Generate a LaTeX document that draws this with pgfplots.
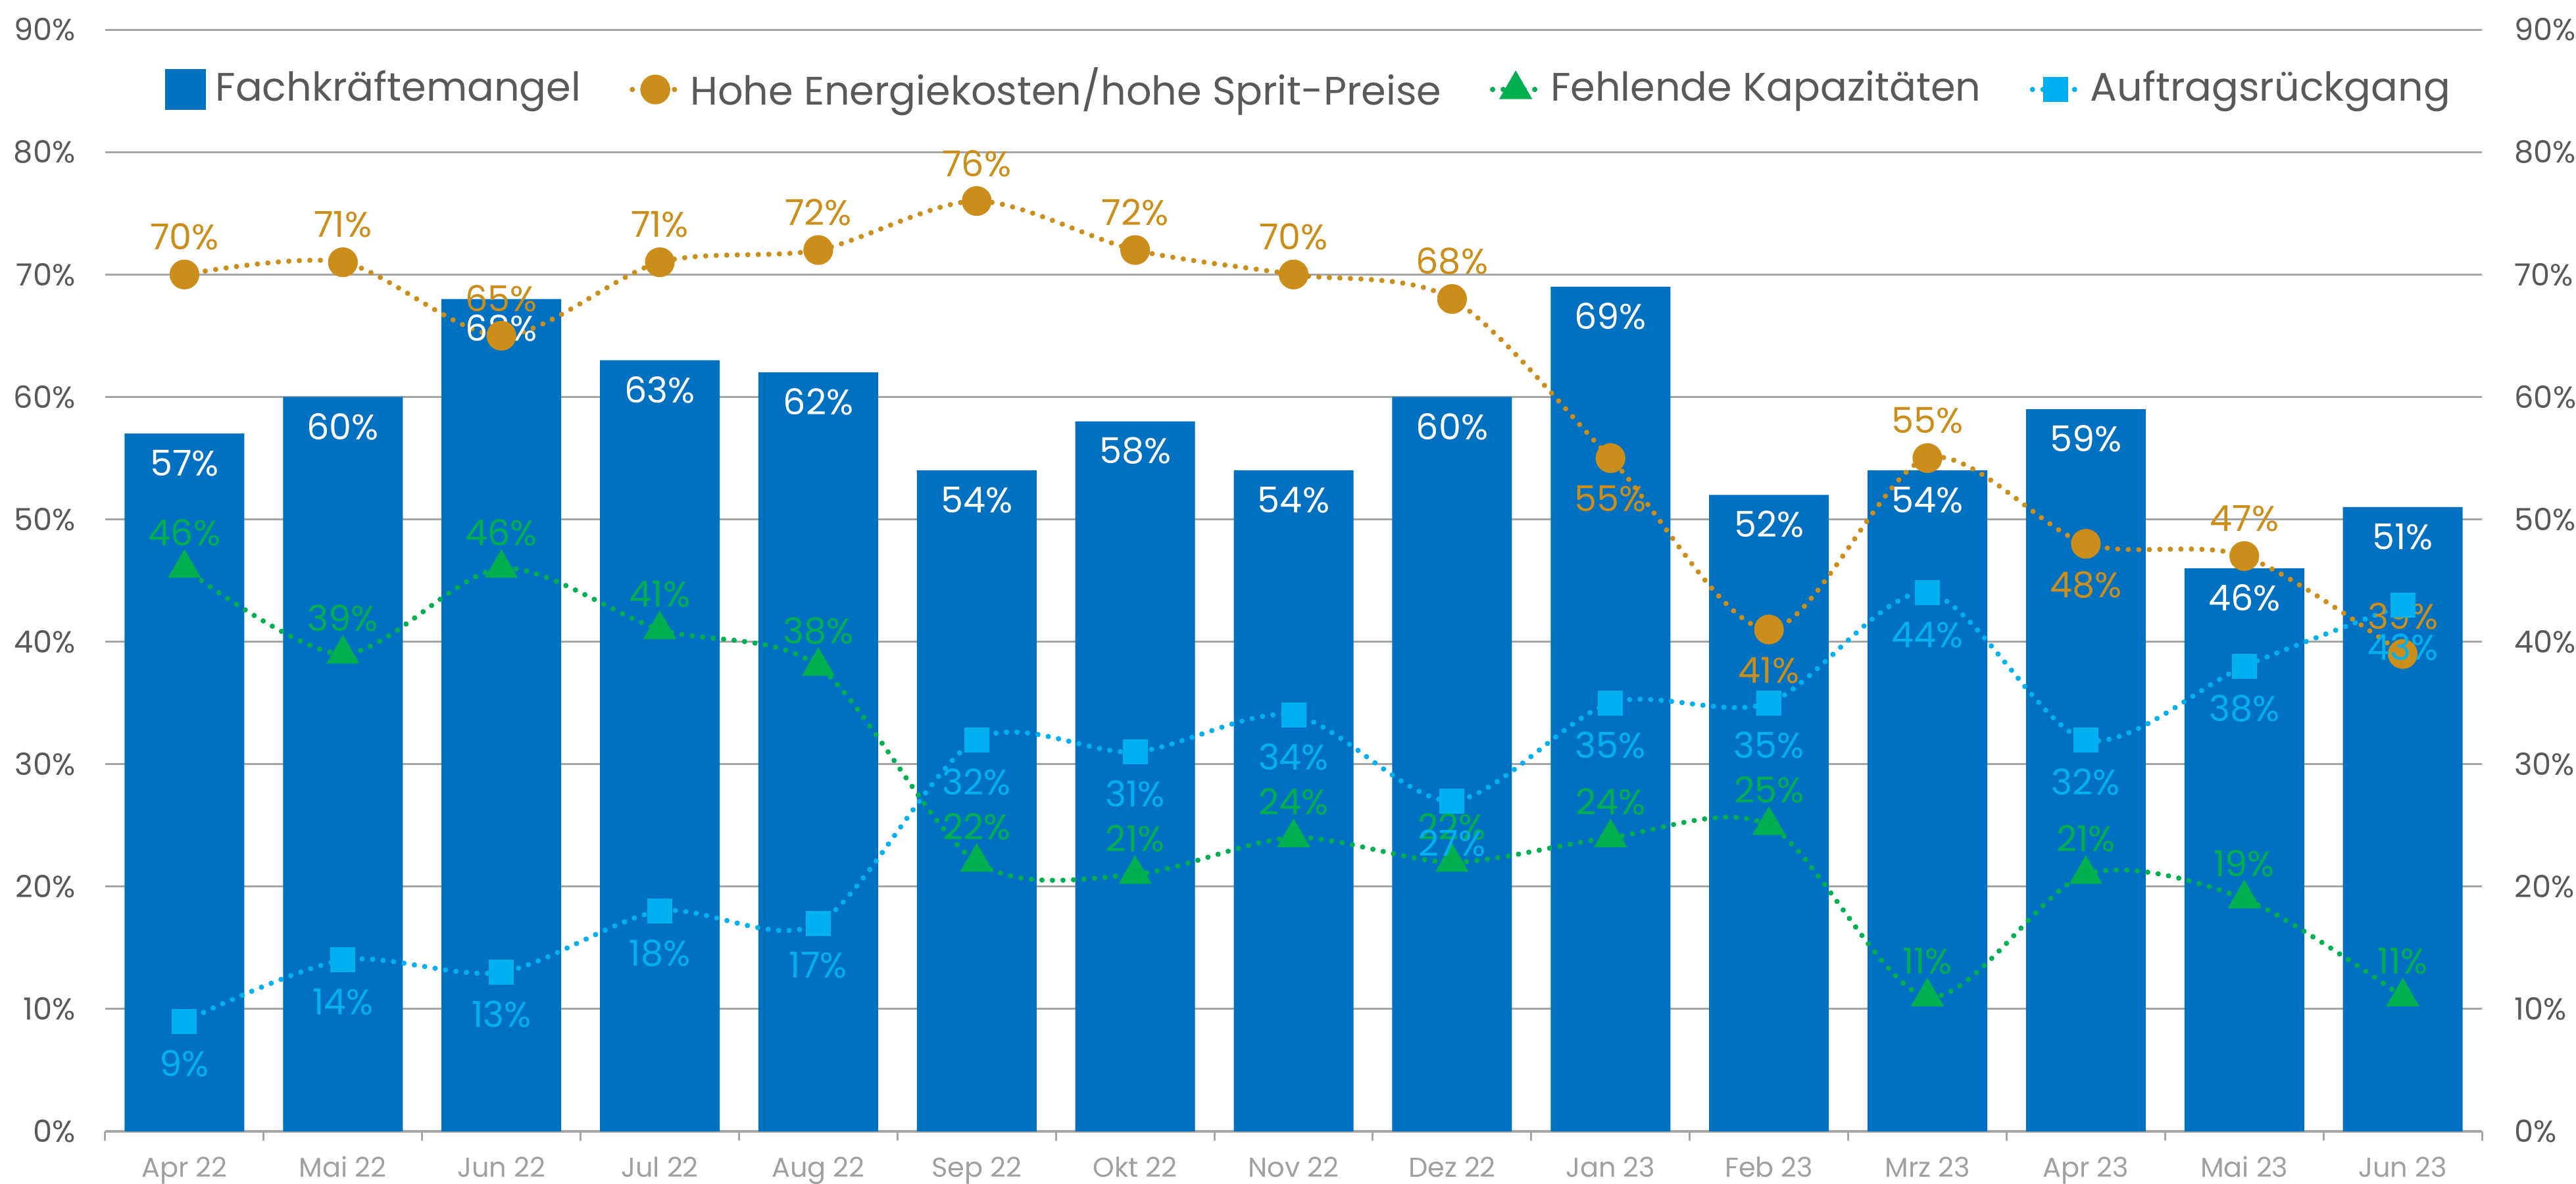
\documentclass[border=0pt]{standalone}
\usepackage{fontspec}
\setmainfont{Poppins}
\usepackage{pgfplots}
\usepackage{pgfplotstable}
\pgfplotsset{compat=1.18}
\pgfkeys{/pgf/number format/assume math mode=true}

\definecolor{barblue}{HTML}{0070C0}
\definecolor{energy}{HTML}{CB8E1A}
\definecolor{kapa}{HTML}{00B050}
\definecolor{auftrag}{HTML}{00B0F0}
\definecolor{txtgray}{HTML}{595959}
\definecolor{xgray}{HTML}{A0A0A0}
\definecolor{gridgray}{HTML}{A6A6A6}

% epos: shift of the energy label in mm (above > 0, below < 0)
\pgfplotstableread{
x  bar energy epos  green blue
0  57  70     2.85  46    9
1  60  71     2.85  39    14
2  68  65     2.85  46    13
3  63  71     2.85  41    18
4  62  72     2.85  38    17
5  54  76     2.85  22    32
6  58  72     2.85  21    31
7  54  70     2.85  24    34
8  60  68     2.85  22    27
9  69  55     -3.1  24    35
10 52  41     -3.1  25    35
11 54  55     2.85  11    44
12 59  48     -3.1  21    32
13 46  47     2.85  19    38
14 51  39     2.85  11    43
}\umfrage

\newcommand{\lblfont}{\fontsize{7.7}{9}\selectfont}
\newcommand{\tickfont}{\fontsize{6.6}{8}\selectfont}

\begin{document}
\begin{tikzpicture}[x=1mm,y=1mm]
\useasboundingbox (-8,-3.95) rectangle (187.8,86);
\begin{axis}[
  at={(0,0)}, anchor=south west,
  scale only axis, width=180.65mm, height=83.75mm,
  xmin=-0.5, xmax=14.5, ymin=0, ymax=90,
  clip=false,
  axis x line*=bottom, axis y line*=left,
  y axis line style={draw=none},
  x axis line style={draw=gridgray, line width=0.2mm},
  xtick={0,...,14},
  xticklabels={Apr 22, Mai 22, Jun 22, Jul 22, Aug 22, Sep 22, Okt 22, Nov 22, Dez 22, Jan 23, Feb 23, Mrz 23, Apr 23, Mai 23, Jun 23},
  minor xtick={-0.5,0.5,...,14.5},
  major tick length=0pt, minor tick length=0.7mm, tick align=outside,
  minor tick style={draw=gridgray, line width=0.15mm},
  xticklabel style={font=\fontsize{5.9}{7}\selectfont, text=xgray, anchor=base, inner sep=0pt, yshift=-3.45mm},
  ytick={0,10,...,90},
  yticklabel={\pgfmathprintnumber{\tick}\%},
  yticklabel style={font=\tickfont, text=txtgray, anchor=east, inner sep=0pt, xshift=-2.2mm},
  ymajorgrids, major grid style={draw=gridgray, line width=0.15mm},
  legend columns=4,
  legend style={at={(0.508,0.9457)}, anchor=center, draw=none, fill=none,
    font=\fontsize{8.6}{10}\selectfont, text=txtgray,
    /tikz/every even column/.append style={column sep=3mm}},
  legend image code/.code={\draw[mark repeat=2,mark phase=2,#1] plot coordinates {(0mm,0mm) (1.75mm,0mm) (3.5mm,0mm)};},
]
\addplot[ybar, bar width=9.1mm, bar shift=0pt, fill=barblue, draw=none,
  legend image code/.code={\fill[barblue] (0mm,-1.55mm) rectangle (3.1mm,1.55mm);},
  nodes near coords={\pgfmathprintnumber{\pgfplotspointmeta}\%},
  every node near coord/.style={font=\lblfont, text=white, anchor=center, yshift=-2.25mm}]
  table[x=x,y=bar]{\umfrage};
\addlegendentry{Fachkräftemangel}

\addplot[energy, line width=0.4mm, dash pattern=on 0pt off 0.8mm, line cap=round, smooth,
  mark=*, mark size=0.93mm, mark options={solid, fill=energy, draw=none},
  visualization depends on={\thisrow{epos} \as \epos},
  nodes near coords={\pgfmathprintnumber{\pgfplotspointmeta}\%},
  every node near coord/.style={font=\lblfont, text=energy, anchor=center, yshift=\epos*1mm}]
  table[x=x,y=energy]{\umfrage};
\addlegendentry{Hohe Energiekosten/hohe Sprit-Preise}

\addplot[kapa, line width=0.4mm, dash pattern=on 0pt off 0.8mm, line cap=round, smooth,
  mark=triangle*, mark size=1.05mm, mark options={solid, fill=kapa, draw=none},
  nodes near coords={\pgfmathprintnumber{\pgfplotspointmeta}\%},
  every node near coord/.style={font=\lblfont, text=kapa, anchor=center, yshift=2.7mm}]
  table[x=x,y=green]{\umfrage};
\addlegendentry{Fehlende Kapazitäten}

\addplot[auftrag, line width=0.4mm, dash pattern=on 0pt off 0.8mm, line cap=round, smooth,
  mark=square*, mark size=0.75mm, mark options={solid, fill=auftrag, draw=none},
  nodes near coords={\pgfmathprintnumber{\pgfplotspointmeta}\%},
  every node near coord/.style={font=\lblfont, text=auftrag, anchor=center, yshift=-3.2mm}]
  table[x=x,y=blue]{\umfrage};
\addlegendentry{Auftragsrückgang}
\end{axis}

\begin{axis}[
  at={(0,0)}, anchor=south west,
  scale only axis, width=180.65mm, height=83.75mm,
  xmin=-0.5, xmax=14.5, ymin=0, ymax=90,
  hide x axis, axis y line*=right, y axis line style={draw=none},
  ytick={0,10,...,90}, major tick length=0pt,
  yticklabel={\pgfmathprintnumber{\tick}\%},
  yticklabel style={font=\tickfont, text=txtgray, anchor=west, inner sep=0pt, xshift=2.4mm},
]
\end{axis}
\end{tikzpicture}
\end{document}
